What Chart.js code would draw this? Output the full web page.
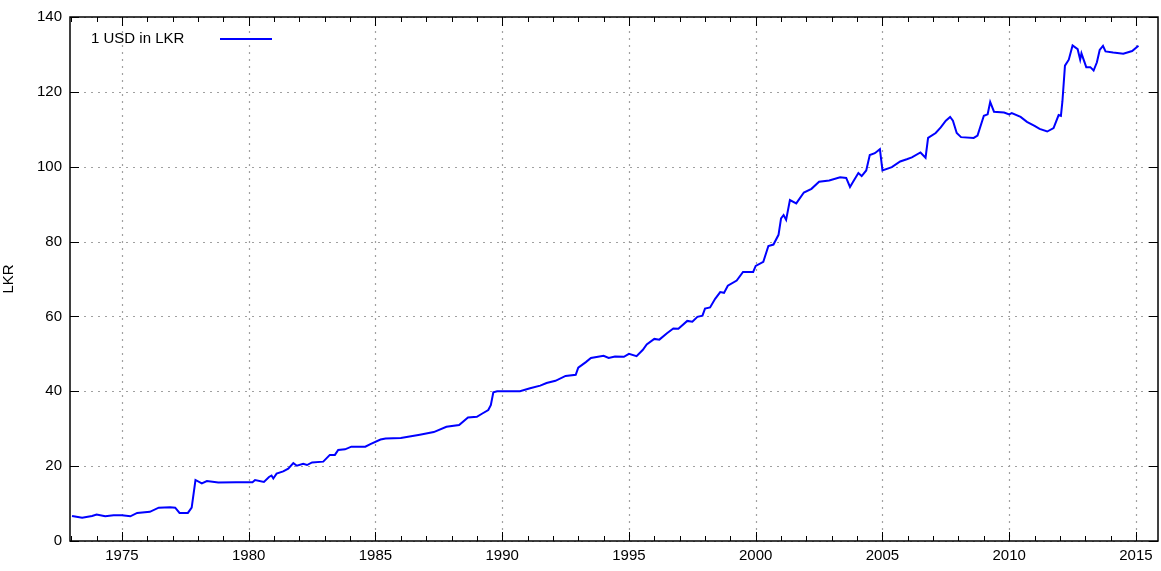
<!DOCTYPE html>
<html><head><meta charset="utf-8">
<script src="https://cdn.jsdelivr.net/npm/chart.js@4"></script>
<style>html,body{margin:0;padding:0;background:#fff}#w{width:1161px;height:571px}</style>
</head><body><div id="w"><canvas id="c"></canvas></div>
<script>
const years = [1973.03,1973.43,1973.82,1974.0,1974.34,1974.67,1975.0,1975.33,1975.6,1976.1,1976.45,1976.9,1977.1,1977.27,1977.6,1977.75,1977.9,1978.15,1978.35,1978.8,1979.5,1980.15,1980.25,1980.6,1980.8,1980.9,1980.97,1981.1,1981.36,1981.56,1981.76,1981.9,1982.15,1982.3,1982.5,1982.94,1983.2,1983.4,1983.53,1983.8,1984.05,1984.6,1984.8,1985.2,1985.4,1986.0,1986.75,1987.3,1987.8,1988.3,1988.65,1989.0,1989.2,1989.45,1989.55,1989.65,1989.8,
1990.7,1991.1,1991.5,1991.75,1992.1,1992.5,1992.9,1993.0,1993.3,1993.5,1994.0,1994.2,1994.45,1994.8,1995.0,1995.3,1995.55,1995.7,1996.0,1996.2,1996.5,1996.75,1996.95,1997.3,1997.5,1997.7,1997.9,1998.0,1998.2,1998.4,1998.6,1998.75,1998.9,1999.25,1999.5,1999.9,2000.0,2000.3,2000.5,2000.7,2000.9,2001.0,2001.1,2001.2,2001.35,2001.6,2001.9,2002.2,2002.5,2002.9,2003.33,2003.57,2003.72,2003.86,2004.05,2004.18,2004.36,2004.5,2004.7,2004.9,2005.0,2005.37,2005.7,2005.96,2006.16,2006.5,2006.7,2006.8,2007.1,2007.3,2007.5,2007.67,2007.78,2007.93,2008.1,2008.6,2008.75,2009.0,2009.15,2009.25,2009.4,2009.8,2010.0,2010.1,2010.45,2010.7,2011.0,2011.2,2011.5,2011.75,2011.95,2012.04,2012.1,2012.2,2012.35,2012.5,2012.7,2012.8,2012.85,2013.04,2013.2,2013.33,2013.46,2013.57,2013.7,2013.8,2014.1,2014.5,2014.85,2015.1];
const lkr = [6.7,6.2,6.7,7.1,6.6,6.9,6.9,6.6,7.5,7.8,8.9,9.0,8.9,7.5,7.5,8.9,16.3,15.4,16.0,15.6,15.7,15.7,16.3,15.8,17.1,17.5,16.7,18.0,18.6,19.3,20.8,20.1,20.6,20.3,21.0,21.2,23.0,23.0,24.3,24.5,25.2,25.2,25.9,27.1,27.4,27.5,28.4,29.1,30.5,31.0,33.0,33.2,34.0,35.0,36.3,39.7,40.0,
40.0,40.8,41.5,42.2,42.8,44.1,44.4,46.3,47.8,48.9,49.5,48.9,49.3,49.2,50.0,49.4,51.1,52.5,54.0,53.8,55.5,56.8,56.7,58.8,58.6,59.9,60.2,62.1,62.4,64.7,66.5,66.3,68.2,69.6,71.9,71.9,73.5,74.6,78.8,79.2,81.8,86.2,87.1,85.8,91.1,90.2,93.1,94.1,96.0,96.3,97.2,97.0,94.6,96.2,98.3,97.5,99.0,103.1,103.6,104.7,99.0,99.9,101.4,102.0,102.5,103.8,102.4,107.7,109.0,110.5,112.3,113.3,112.3,109.0,107.9,107.7,108.3,113.6,114.0,117.3,114.7,114.5,114.0,114.3,113.3,112.0,110.9,110.1,109.4,110.3,113.8,113.6,117.5,127.0,128.6,132.4,131.4,128.6,130.3,126.6,126.6,125.7,127.9,131.2,132.3,130.8,130.5,130.2,130.9,132.3];
const xTicks = [1975,1980,1985,1990,1995,2000,2005,2010,2015];
const yTicks = [0,20,40,60,80,100,120,140];
const seriesLabel = '1 USD in LKR';
const FONT = '15px "Liberation Sans", Arial, sans-serif';

const frame = {
  id:'frame',
  beforeDatasetsDraw(ch){
    const {ctx, chartArea:a, scales:{x,y}} = ch;
    ctx.save();
    ctx.strokeStyle='#a0a0a0'; ctx.lineWidth=1.2; ctx.setLineDash([2,5]);
    xTicks.forEach(v=>{const p=Math.round(x.getPixelForValue(v))+0.5;ctx.beginPath();ctx.moveTo(p,a.top);ctx.lineTo(p,a.bottom);ctx.stroke();});
    yTicks.forEach(v=>{const p=Math.round(y.getPixelForValue(v))+0.5;ctx.beginPath();ctx.moveTo(a.left,p);ctx.lineTo(a.right,p);ctx.stroke();});
    ctx.restore();
  },
  afterDatasetsDraw(ch){
    const {ctx, chartArea:a, scales:{x,y}} = ch;
    ctx.save();
    ctx.strokeStyle='#000'; ctx.lineWidth=1.5; ctx.setLineDash([]);
    ctx.strokeRect(a.left,a.top,a.right-a.left,a.bottom-a.top);
    ctx.lineWidth=1;
    for(let yr=1973; yr<=2015; yr++){
      const p=Math.round(x.getPixelForValue(yr))+0.5; const L = yr%5===0?9:5;
      ctx.beginPath();ctx.moveTo(p,a.bottom);ctx.lineTo(p,a.bottom-L);ctx.moveTo(p,a.top);ctx.lineTo(p,a.top+L);ctx.stroke();
    }
    yTicks.forEach(v=>{const p=Math.round(y.getPixelForValue(v))+0.5;ctx.beginPath();ctx.moveTo(a.left,p);ctx.lineTo(a.left+9,p);ctx.moveTo(a.right,p);ctx.lineTo(a.right-9,p);ctx.stroke();});
    // legend
    ctx.font=FONT; ctx.fillStyle='#000'; ctx.textBaseline='middle'; ctx.textAlign='left';
    ctx.fillText(seriesLabel, a.left+21, a.top+22);
    ctx.strokeStyle='#0000ff'; ctx.lineWidth=2;
    ctx.beginPath();ctx.moveTo(a.left+150,a.top+22);ctx.lineTo(a.left+202,a.top+22);ctx.stroke();
    ctx.restore();
  }
};

new Chart(document.getElementById('c'),{
  type:'line',
  data:{datasets:[{label:seriesLabel,data:years.map((v,i)=>({x:v,y:lkr[i]})),borderColor:'#0000ff',borderWidth:2,pointRadius:0,tension:0,fill:false}]},
  options:{
    responsive:true,maintainAspectRatio:false,animation:false,
    layout:{padding:{top:8,right:3,left:0,bottom:0}},
    plugins:{legend:{display:false},tooltip:{enabled:false}},
    scales:{
      x:{type:'linear',min:1972.95,max:2015.87,
        afterBuildTicks(s){s.ticks=xTicks.map(v=>({value:v}));},
        afterFit(s){s.height=30;},
        grid:{display:false,drawTicks:false},border:{display:false},
        ticks:{font:{family:'"Liberation Sans", Arial, sans-serif',size:15},color:'#000',padding:6,maxRotation:0,autoSkip:false,callback:v=>String(v)}},
      y:{min:0,max:140,
        afterBuildTicks(s){s.ticks=yTicks.map(v=>({value:v}));},
        afterFit(s){s.width=70;},
        grid:{display:false,drawTicks:false},border:{display:false},
        title:{display:true,text:'LKR',font:{family:'"Liberation Sans", Arial, sans-serif',size:15},color:'#000',padding:0},
        ticks:{font:{family:'"Liberation Sans", Arial, sans-serif',size:15},color:'#000',padding:8}}
    }
  },
  plugins:[frame]
});
</script></body></html>
